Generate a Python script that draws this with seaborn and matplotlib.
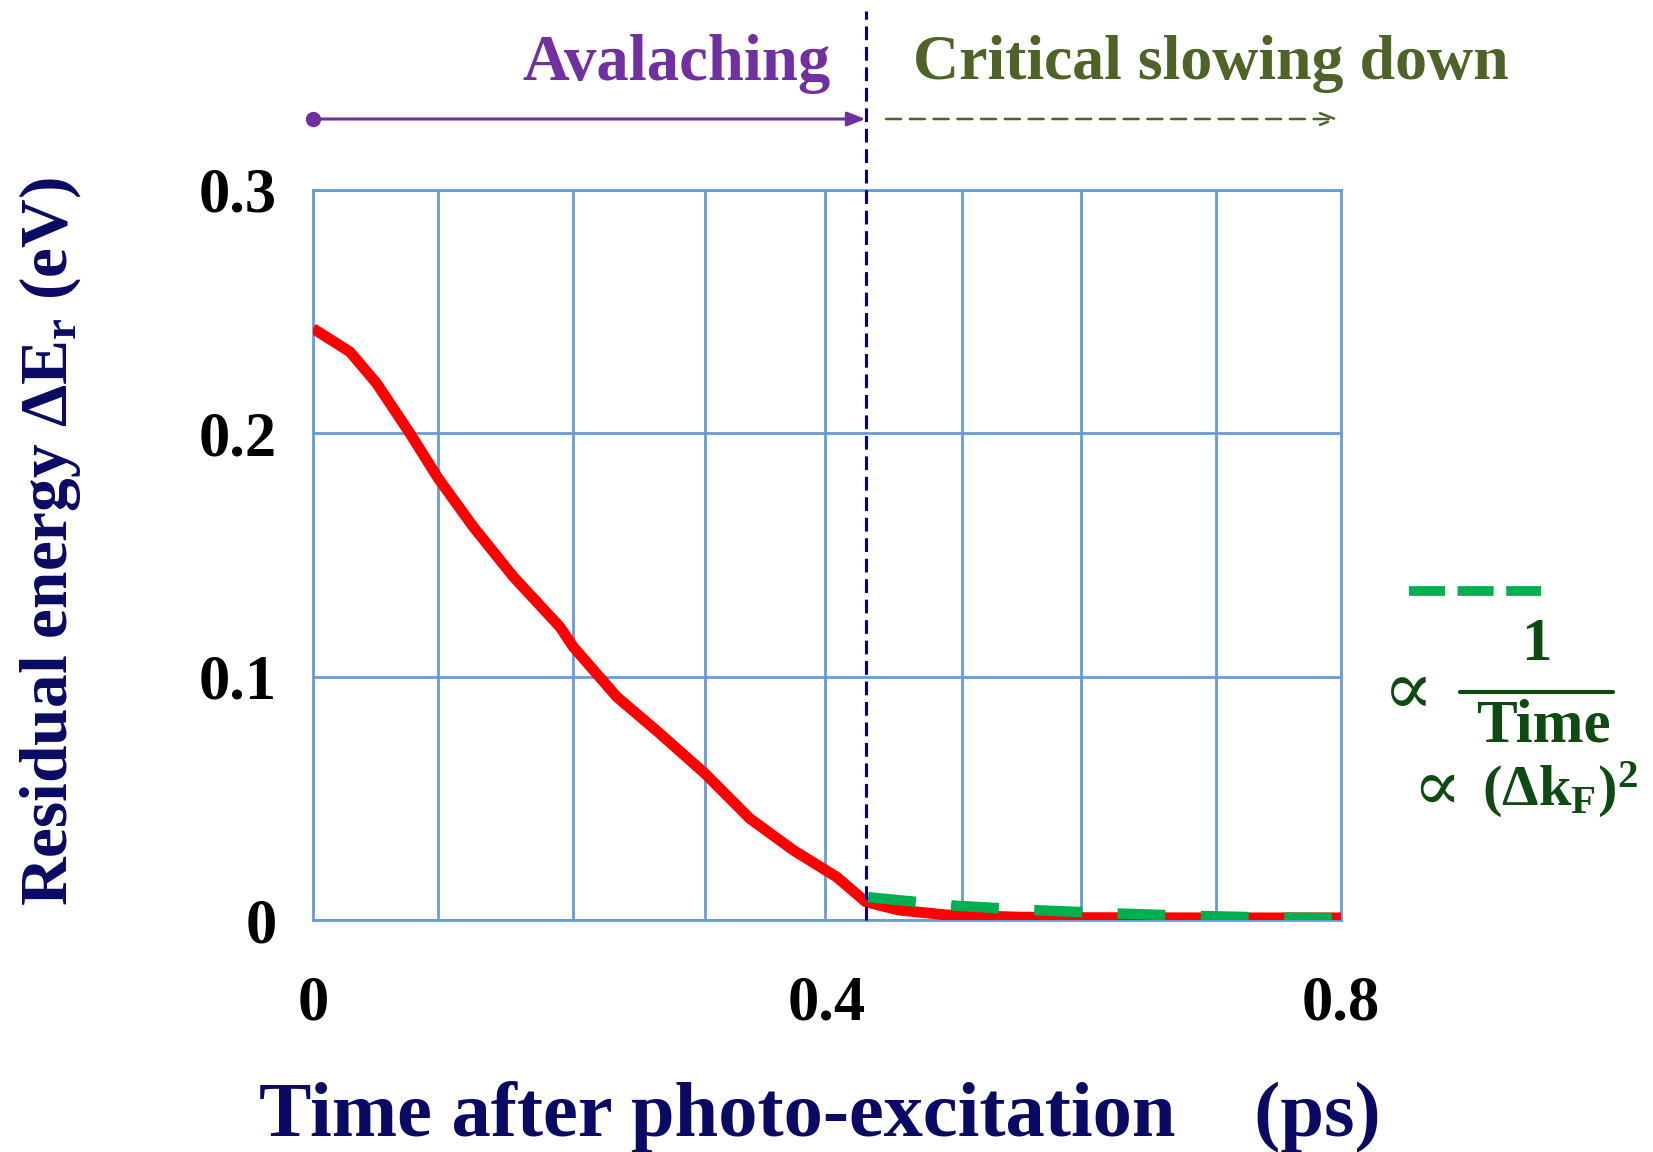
import numpy as np
import pandas as pd
import seaborn as sns
import matplotlib
matplotlib.use("Agg")
import matplotlib.pyplot as plt
import matplotlib.transforms as mtransforms

# ---------------- data ----------------
red_t = [0.0, 0.0288, 0.0496, 0.0755, 0.0975, 0.1248, 0.156, 0.1922, 0.2026, 0.2364,
         0.27, 0.305, 0.340, 0.3738, 0.4075, 0.4257, 0.430, 0.456, 0.493, 0.55, 0.60, 0.70, 0.80]
red_e = [0.2431, 0.2335, 0.2205, 0.200, 0.1815, 0.1616, 0.1411, 0.1205, 0.1123, 0.0918,
         0.0767, 0.0603, 0.0418, 0.0288, 0.0178, 0.0096, 0.0076, 0.0042, 0.0022, 0.0013,
         0.0011, 0.0010, 0.0010]
fit_t = [0.432, 0.50, 0.56, 0.62, 0.68, 0.74, 0.80]
fit_e = [0.0095, 0.0060, 0.0042, 0.0029, 0.0019, 0.0012, 0.0009]
grid_x = [0.0, 0.0975, 0.2026, 0.305, 0.3984, 0.505, 0.598, 0.703, 0.8]
xticks = [0.0, 0.4, 0.8]
xticklabels = ["0", "0.4", "0.8"]
yticks = [0.0, 0.1, 0.2, 0.3]
yticklabels = ["0", "0.1", "0.2", "0.3"]
boundary_t = 0.43

df_red = pd.DataFrame({"t": red_t, "E": red_e})
df_fit = pd.DataFrame({"t": fit_t, "E": fit_e})

# ---------------- style ----------------
sns.set_theme(style="white")
plt.rcParams["font.family"] = ["Liberation Serif", "DejaVu Serif"]
plt.rcParams["mathtext.fontset"] = "custom"
plt.rcParams["mathtext.rm"] = "Liberation Serif:bold"
plt.rcParams["mathtext.bf"] = "Liberation Serif:bold"
plt.rcParams["mathtext.it"] = "Liberation Serif:bold"

GRID = "#6a9ad4"
NAVY = "#0a0a64"
PURPLE = "#7030a0"
OLIVE = "#4f6228"
DKGREEN = "#0f4a12"

W, H = 1653, 1152
fig = plt.figure(figsize=(W / 100, H / 100), dpi=100)
ax = fig.add_axes([313 / W, 1 - 920.3 / H, (1341 - 313) / W, (920.3 - 190) / H])

sns.lineplot(data=df_red, x="t", y="E", ax=ax, color="#ff0000", lw=7.8,
             solid_capstyle="butt", solid_joinstyle="round", zorder=3)
sns.lineplot(data=df_fit, x="t", y="E", ax=ax, color="#00b050", lw=7.5,
             dashes=False, zorder=4)
ax.lines[-1].set_dashes([4.6, 3.4])
ax.lines[-1].set_dash_capstyle("butt")

ax.set_xlim(0, 0.8)
ax.set_ylim(0, 0.3)
ax.set_xticks(xticks)
ax.set_xticklabels(xticklabels)
ax.set_yticks(yticks)
ax.set_yticklabels(yticklabels)
ax.set_xticks(grid_x, minor=True)
ax.tick_params(axis="both", which="both", length=0)
ax.tick_params(axis="x", pad=40)
ax.tick_params(axis="y", pad=26)
for lab in ax.get_xticklabels() + ax.get_yticklabels():
    lab.set_fontsize(45)
    lab.set_fontweight("bold")
    lab.set_color("black")
ax.grid(False)
ax.grid(which="minor", axis="x", color=GRID, lw=2.0)
ax.grid(which="major", axis="y", color=GRID, lw=2.0)
ax.set_axisbelow(True)
for s in ax.spines.values():
    s.set_color(GRID)
    s.set_linewidth(2.0)

ax.set_xlabel("")
ax.set_ylabel("")

# axis titles
fig.text(820 / W, 1 - 1117 / H, "Time after photo-excitation    (ps)", ha="center", va="center",
         fontsize=56.5, fontweight="bold", color=NAVY)
fig.text(50 / W, 1 - 542 / H, r"Residual energy $\Delta$E$_\mathrm{r}$ (eV)", ha="center",
         va="center", rotation=90, fontsize=48.5, fontweight="bold", color=NAVY)

# boundary line
trans = mtransforms.blended_transform_factory(ax.transData, ax.transAxes)
ax.plot([boundary_t, boundary_t], [0, 1.245], transform=trans, color="#000099", lw=2.2,
        dashes=[4.5, 2.2], clip_on=False, zorder=5)

# regime arrows
yarr = (920.3 - 119) / (920.3 - 190)
ax.annotate("", xy=(boundary_t, yarr), xytext=(0.0, yarr), xycoords=trans, textcoords=trans,
            arrowprops=dict(arrowstyle="-|>,head_length=0.9,head_width=0.35", color=PURPLE,
                            lw=2.2, shrinkA=0, shrinkB=0), annotation_clip=False)
ax.plot([0.0], [yarr], transform=trans, marker="o", ms=10, color=PURPLE, clip_on=False)
ax.annotate("", xy=(0.798, yarr), xytext=(0.446, yarr), xycoords=trans, textcoords=trans,
            arrowprops=dict(arrowstyle="->,head_length=0.9,head_width=0.35", color=OLIVE,
                            lw=1.8, linestyle=(0, (6, 3.5)), shrinkA=0, shrinkB=0),
            annotation_clip=False)

fig.text(831 / W, 1 - 64 / H, "Avalaching", ha="right", va="center", fontsize=46.5,
         fontweight="bold", color=PURPLE)
fig.text(913 / W, 1 - 64 / H, "Critical slowing down", ha="left", va="center", fontsize=46,
         fontweight="bold", color=OLIVE)

# right-hand legend
fig.lines.append(plt.Line2D([1409 / W, 1541 / W], [1 - 591 / H, 1 - 591 / H],
                            transform=fig.transFigure, color="#00b050", lw=7,
                            dashes=[3.7, 1.3], solid_capstyle="butt"))
fig.text(1408 / W, 1 - 693 / H, "∝", ha="center", va="center", fontsize=54,
         fontweight="normal", color=DKGREEN, family=["DejaVu Serif"])
fig.text(1536 / W, 1 - 645 / H, "1", ha="center", va="center", fontsize=44,
         fontweight="bold", color=DKGREEN)
fig.lines.append(plt.Line2D([1460 / W, 1613 / W], [1 - 692 / H, 1 - 692 / H],
                            transform=fig.transFigure, color=DKGREEN, lw=3))
fig.text(1543 / W, 1 - 727 / H, "Time", ha="center", va="center", fontsize=44,
         fontweight="bold", color=DKGREEN)
fig.text(1437 / W, 1 - 790 / H, "∝", ha="center", va="center", fontsize=52,
         fontweight="normal", color=DKGREEN, family=["DejaVu Serif"])
fig.text(1560 / W, 1 - 790 / H, r"(Δk$_\mathbf{F}$)$^\mathbf{2}$", ha="center", va="center",
         fontsize=42, fontweight="bold", color=DKGREEN)

fig.savefig("out.png", dpi=100, facecolor="white")
